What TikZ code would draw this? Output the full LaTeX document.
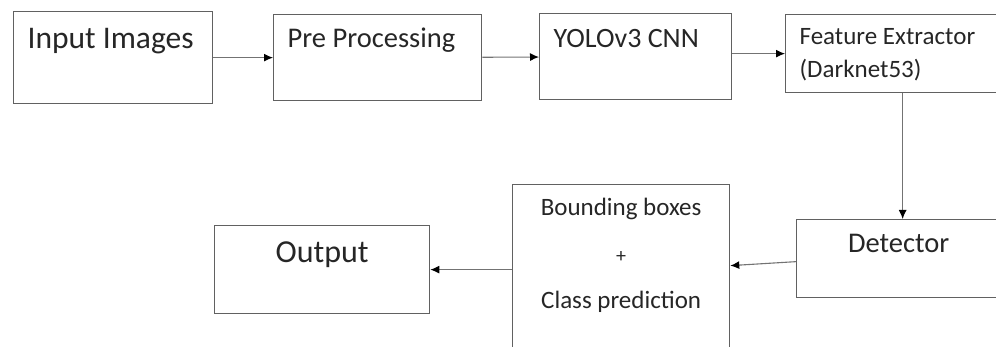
\documentclass[tikz,border=0pt]{standalone}
\usepackage{fontspec}
\setmainfont{Carlito}
\usetikzlibrary{arrows.meta}

\begin{document}
\begin{tikzpicture}[
      x=1pt, y=-1pt,
      blk/.style={draw=black!62, line width=1.3pt, anchor=north west, inner xsep=14pt, inner ysep=0pt, text=black!85, align=flush left},
      ctr/.style={blk, inner xsep=0pt, align=flush center},
      arr/.style={-{Latex[length=9pt,width=8pt,black]}, draw=black!55, line width=1.1pt},
    ]
    \useasboundingbox (0,0) rectangle (996,347);
    \clip (0,0) rectangle (996,347);

    % top row
    \node[blk, text width=171pt, text height=37pt, text depth=55pt, font=\fontsize{31.5}{36}\selectfont] (in) at (13,11) {Input Images};
    \node[blk, text width=180pt, text height=33pt, text depth=53pt, font=\fontsize{28.5}{31}\selectfont] (pre) at (273,14) {Pre Processing};
    \node[blk, text width=164pt, text height=34pt, text depth=52pt, font=\fontsize{28}{31}\selectfont] (yolo) at (539,13) {YOLOv3 CNN};
    \node[blk, text width=206pt, text height=30pt, text depth=48pt, font=\fontsize{25}{33}\selectfont] (fe) at (785,14) {Feature Extractor\\(Darknet53)};

    % bottom row
    \node[ctr, text width=204pt, text height=33pt, text depth=45pt, font=\fontsize{28.5}{34}\selectfont] (det) at (796,219) {Detector};
    \node[ctr, text width=217pt, text height=31pt, text depth=137pt, font=\fontsize{25}{46.5}\selectfont] (bb) at (512,184) {Bounding boxes\\{\fontsize{20}{20}\selectfont +}\\Class prediction};
    \node[ctr, text width=215pt, text height=37pt, text depth=51pt, font=\fontsize{32}{36}\selectfont] (out) at (214,225) {Output};

    \draw[arr] (in) -- (pre);
    \draw[arr] (pre) -- (yolo);
    \draw[arr] (fe.west -| yolo.east) -- (fe.west);
    \draw[arr] (fe.south) -- (fe.south |- det.north);
    \draw[arr] ([yshift=-3pt]det.west) -- ([yshift=3pt]bb.east);
    \draw[arr] (bb.west |- out.east) -- (out.east);
\end{tikzpicture}
\end{document}
